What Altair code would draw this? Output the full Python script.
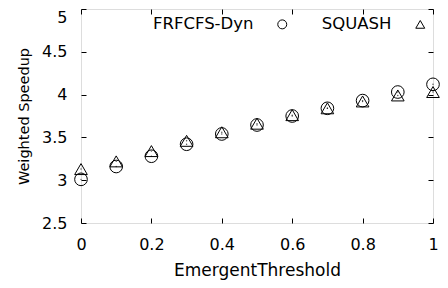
import altair as alt
import pandas as pd

thresholds = [0.0, 0.1, 0.2, 0.3, 0.4, 0.5, 0.6, 0.7, 0.8, 0.9, 1.0]
frfcfs_dyn = [3.01, 3.16, 3.28, 3.42, 3.54, 3.645, 3.75, 3.84, 3.93, 4.03, 4.12]
squash = [3.13, 3.22, 3.34, 3.46, 3.56, 3.66, 3.76, 3.84, 3.92, 3.99, 4.03]
series_names = ["FRFCFS-Dyn", "SQUASH"]
x_ticks = [0, 0.2, 0.4, 0.6, 0.8, 1]
y_ticks = [2.5, 3, 3.5, 4, 4.5, 5]

rows = []
for name, vals in zip(series_names, [frfcfs_dyn, squash]):
    for t, v in zip(thresholds, vals):
        rows.append({"t": t, "v": v, "series": name})
df = pd.DataFrame(rows)

W, H = 352, 214
FONT = "DejaVu Sans"

xscale = alt.Scale(domain=[0, 1], nice=False, zero=False)
yscale = alt.Scale(domain=[2.5, 5], nice=False, zero=False)

base = alt.Chart(df)

main_x = alt.Axis(orient="bottom", values=x_ticks, format="~g", ticks=False, domain=False,
                  grid=False, labelFlush=False,
                  labelFontSize=16, labelPadding=13, labelColor="black", labelFont=FONT,
                  title="EmergentThreshold", titleFontSize=17, titleFont=FONT,
                  titleFontWeight="normal", titleColor="black", titlePadding=10)
main_y = alt.Axis(orient="left", values=y_ticks, format="~g", ticks=False, domain=False,
                  grid=False, labelFlush=False,
                  labelOffset={"condition": {"test": "datum.value == 5", "value": 8}, "value": 0},
                  labelFontSize=16, labelPadding=14, labelColor="black", labelFont=FONT,
                  title="Weighted Speedup", titleFontSize=14.5, titleFont=FONT,
                  titleFontWeight="normal", titleColor="black", titlePadding=10)

points = base.mark_point(filled=False, color="black", strokeWidth=1, opacity=1, size=160).encode(
    x=alt.X("t:Q", scale=xscale, axis=main_x),
    y=alt.Y("v:Q", scale=yscale, axis=main_y),
    shape=alt.Shape("series:N",
                    scale=alt.Scale(domain=series_names, range=["circle", "triangle-up"]),
                    legend=alt.Legend(orient="none", legendX=193, legendY=7,
                                      direction="horizontal", title=None,
                                      labelFont=FONT, labelFontSize=16.5, labelColor="black",
                                      labelAlign="right", labelOffset=alt.ExprRef(expr="-37"),
                                      symbolSize=80, symbolStrokeColor="black",
                                      symbolStrokeWidth=1, symbolFillColor="transparent",
                                      columnPadding=32)),
)

dots = base.mark_point(filled=True, color="black", size=2, shape="circle").encode(
    x=alt.X("t:Q", scale=xscale, axis=None),
    y=alt.Y("v:Q", scale=yscale, axis=None),
)


def tick_axis(orient, offset, vals):
    return alt.Axis(orient=orient, offset=offset, values=vals, labels=False, domain=False,
                    grid=False, title=None, ticks=True, tickSize=5, tickColor="black",
                    tickWidth=1)


ticks_a = base.mark_point(opacity=0).encode(
    x=alt.X("t:Q", scale=xscale, axis=tick_axis("top", -H, x_ticks)),
    y=alt.Y("v:Q", scale=yscale, axis=tick_axis("right", -W, y_ticks)),
)
ticks_b = base.mark_point(opacity=0).encode(
    x=alt.X("t:Q", scale=xscale, axis=tick_axis("bottom", -H, x_ticks)),
    y=alt.Y("v:Q", scale=yscale, axis=tick_axis("left", -W, y_ticks)),
)

chart = alt.layer(points, dots, ticks_a, ticks_b).resolve_axis(
    x="independent", y="independent"
).properties(
    width=W, height=H,
    autosize=alt.AutoSizeParams(type="none"),
    padding={"left": 73, "top": 1, "right": 7, "bottom": 57},
).configure_view(stroke="black", strokeWidth=1).configure(font=FONT)

chart.save("out.html", embed_options={"renderer": "svg", "actions": False})
